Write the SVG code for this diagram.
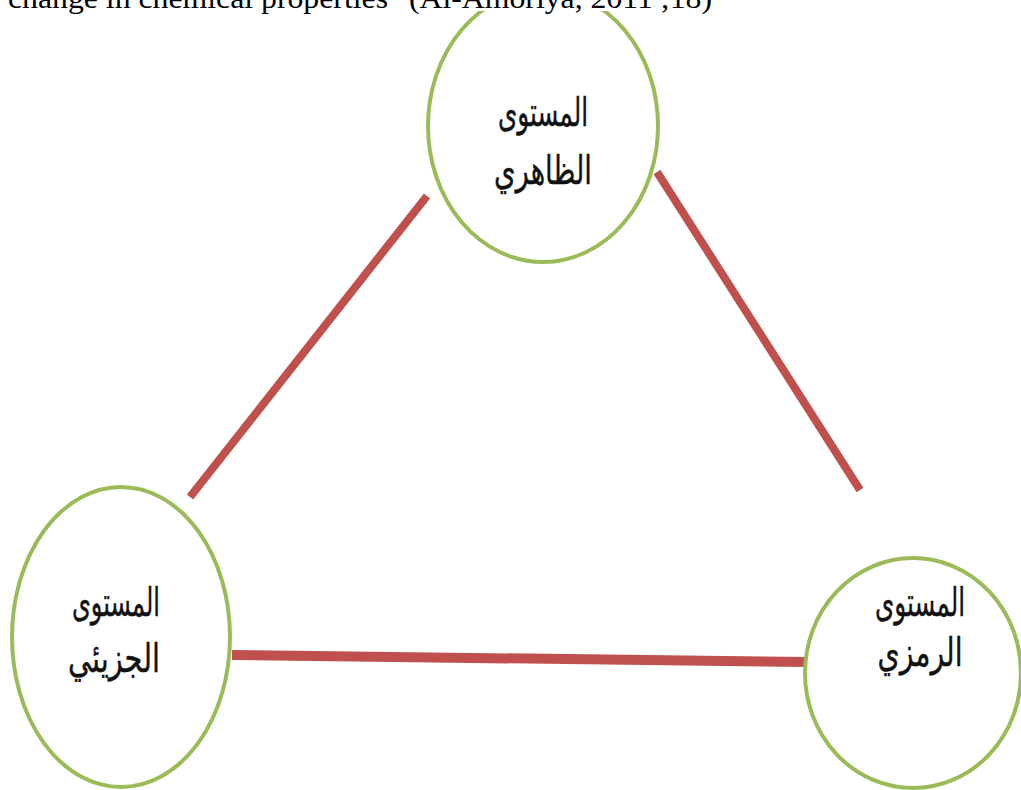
<svg xmlns="http://www.w3.org/2000/svg" width="1021" height="790" viewBox="0 0 1021 790">
<style>
.hdr{font-family:"Liberation Serif","Times New Roman",serif;font-size:30px;fill:#000}
.node ellipse{fill:#fff;stroke:#9bbb59;stroke-width:4}
.lbl{font-family:"DejaVu Sans",sans-serif;font-size:40px;fill:#111;text-anchor:middle;stroke:#111;stroke-width:0.4}
.edge{stroke:#c0504d;stroke-linecap:butt}
</style>
<rect width="1021" height="790" fill="#fff"/>
<g id="connectors">
<line class="edge" x1="427" y1="196" x2="190" y2="497" stroke-width="8"/>
<line class="edge" x1="657" y1="172" x2="860" y2="490" stroke-width="8"/>
<line class="edge" x1="232" y1="655" x2="807" y2="662" stroke-width="10"/>
</g>
<g id="node-top" class="node">
<ellipse cx="543" cy="126" rx="115" ry="136"/>
<text class="lbl" x="543" y="126" direction="rtl" textLength="90" lengthAdjust="spacingAndGlyphs">المستوى</text>
<text class="lbl" x="543" y="184" direction="rtl" textLength="98" lengthAdjust="spacingAndGlyphs">الظاهري</text>
</g>
<g id="node-left" class="node">
<ellipse cx="121" cy="637" rx="109" ry="150"/>
<text class="lbl" x="116" y="616" direction="rtl" textLength="88" lengthAdjust="spacingAndGlyphs">المستوى</text>
<text class="lbl" x="114" y="672" direction="rtl" textLength="92" lengthAdjust="spacingAndGlyphs">الجزيئي</text>
</g>
<g id="node-right" class="node">
<ellipse cx="913" cy="673" rx="108" ry="115"/>
<text class="lbl" x="920" y="616" direction="rtl" textLength="90" lengthAdjust="spacingAndGlyphs">المستوى</text>
<text class="lbl" x="920" y="666" direction="rtl" textLength="85" lengthAdjust="spacingAndGlyphs">الرمزي</text>
</g>
<g id="caption">
<rect x="0" y="0" width="1021" height="11" fill="#fff"/>
<text class="hdr" x="8" y="8" textLength="704" lengthAdjust="spacingAndGlyphs">change in chemical properties"  (Al-Amoriya, 2011 ;18)</text>
</g>
</svg>
